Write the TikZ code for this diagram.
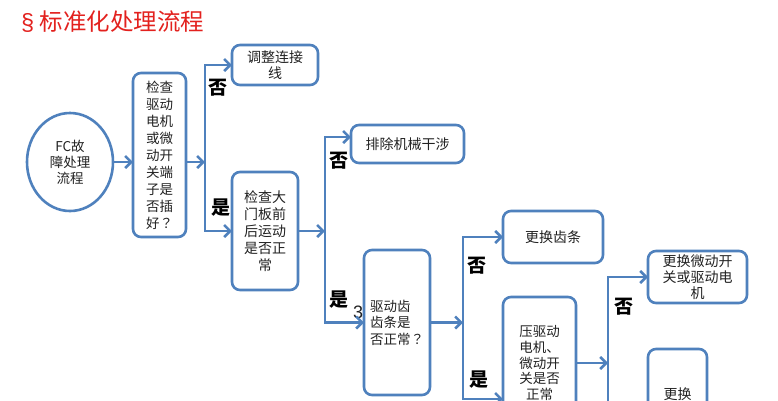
\documentclass[tikz,border=0pt]{standalone}
\usepackage{fontspec}
\newfontfamily\cjk{Noto Sans CJK SC}
\newfontfamily\cjktc{Noto Sans CJK TC}
\newfontfamily\lat{Liberation Sans}
\usetikzlibrary{arrows.meta,shapes.geometric,calc}
\definecolor{lineblue}{HTML}{4F81BD}
\definecolor{titlered}{HTML}{E3211E}
\definecolor{txt}{HTML}{222222}
\newcommand{\qm}{{\cjktc ？}}
\begin{document}
\begin{tikzpicture}[x=1pt,y=-1pt,
  box/.style={draw=lineblue, line width=2.6pt, rounded corners=8pt, inner sep=0pt, outer sep=0pt,
    align=center, text=txt, font=\cjk\fontsize{13.5}{16.5}\selectfont},
  conn/.style={draw=lineblue, line width=2.6pt, -{Straight Barb[length=6pt,width=12pt]}},
  wire/.style={draw=lineblue, line width=2.6pt},
  lab/.style={font=\cjk\bfseries\fontsize{19}{19}\selectfont, inner sep=0pt, text=black}]
\useasboundingbox (0,0) rectangle (778,400);
\clip (0,0) rectangle (778,400);
\fill[white] (0,0) rectangle (778,400);

% title
\node[anchor=west, text=titlered, font=\cjk\fontsize{23.5}{28}\selectfont, inner sep=0pt] (title) at (21,22) {{\lat §} 标准化处理流程};

% nodes
\node[draw=lineblue, line width=2.6pt, ellipse, minimum width=86, minimum height=98, inner sep=0pt,
  align=center, text=txt, font=\cjk\fontsize{13.5}{16}\selectfont] (e) at (70,162) {FC故\\障处理\\流程};
\node[box, minimum width=53, minimum height=164, font=\cjk\fontsize{13.5}{17}\selectfont] (b1) at (159.5,155)
  {检查\\驱动\\电机\\或微\\动开\\关端\\子是\\否插\\好\qm};
\node[box, minimum width=86, minimum height=40, font=\cjk\fontsize{14}{16}\selectfont] (t1) at (275,65) {调整连接\\线};
\node[box, minimum width=66, minimum height=118, font=\cjk\fontsize{14}{17}\selectfont] (b2) at (265,231)
  {检查大\\门板前\\后运动\\是否正\\常};
\node[box, minimum width=113, minimum height=38, font=\cjk\fontsize{14}{16}\selectfont] (t2) at (407.5,144) {排除机械干涉};
\node[box, minimum width=66, minimum height=145, align=left, font=\cjk\fontsize{13.5}{16.5}\selectfont] (b3) at (397,322.5)
  {驱动齿\\齿条是\\否正常\qm};
\node[box, minimum width=100, minimum height=52, font=\cjk\fontsize{14}{16}\selectfont] (t3) at (553,237) {更换齿条};
\node[box, minimum width=73, minimum height=132, font=\cjk\fontsize{13.5}{15.7}\selectfont] (b4) at (539.5,363)
  {压驱动\\电机、\\微动开\\关是否\\正常};
\node[box, minimum width=99, minimum height=52, font=\cjk\fontsize{14}{16}\selectfont] (t4) at (697.5,277)
  {更换微动开\\关或驱动电\\机};
\node[box, minimum width=59, minimum height=90, font=\cjk\fontsize{14}{16}\selectfont] (b5) at (677.5,394) {更换};

% stray label
\node[inner sep=0pt, text=txt, font=\lat\fontsize{18}{18}\selectfont] (three) at (358,312) {3};

% junctions
\coordinate (j1) at (205,162);
\coordinate (j2) at (325,231);
\coordinate (j3) at (463,322.5);
\coordinate (j4) at (608,363);
\coordinate (p2) at (351,137);
\coordinate (p4) at (503,399);
\coordinate (j4end) at (608,420);

% connectors
\draw[conn] (e.east) -- (b1.west |- e.east);
\draw[conn] (b1.east |- j1) -- (j1);
\draw[conn] (j1) |- (t1.west);
\draw[conn] (j1) |- (b2.west);
\draw[conn] (b2.east) -- (j2);
\draw[conn] (j2) |- (t2.west |- p2);
\draw[conn] (j2) |- (b3.west);
\draw[conn] (b3.east) -- (j3);
\draw[conn] (j3) |- (t3.west);
\draw[conn] (j3) |- (p4);
\draw[conn] (b4.east) -- (j4);
\draw[conn] (j4) |- (t4.west);
\draw[wire] (j4) -- (j4end);

% labels
\node[lab] (n1) at (218,88) {否};
\node[lab] (y1) at (221,208) {是};
\node[lab] (n2) at (339,161) {否};
\node[lab] (y2) at (339,300) {是};
\node[lab] (n3) at (477,266) {否};
\node[lab] (y3) at (479,380) {是};
\node[lab] (n4) at (624,307) {否};
\end{tikzpicture}
\end{document}
